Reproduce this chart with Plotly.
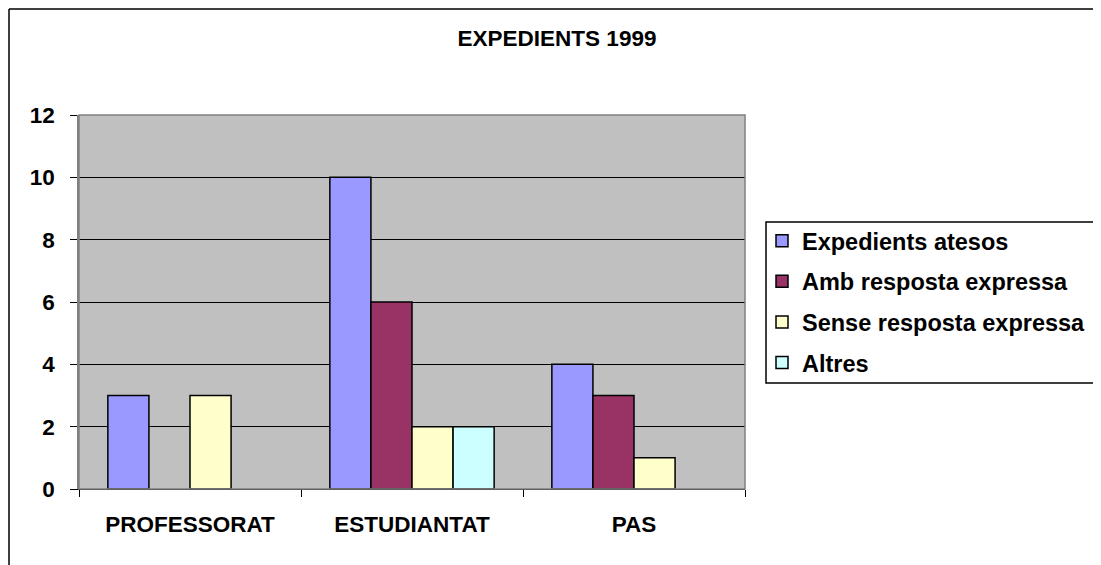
import plotly.graph_objects as go

categories = ["PROFESSORAT", "ESTUDIANTAT", "PAS"]
series_names = ["Expedients atesos", "Amb resposta expressa", "Sense resposta expressa", "Altres"]
expedients_atesos = [3, 10, 4]
amb_resposta = [0, 6, 3]
sense_resposta = [3, 2, 1]
altres = [0, 2, 0]
series_values = [expedients_atesos, amb_resposta, sense_resposta, altres]
colors = ["#9999FF", "#993366", "#FFFFCC", "#CCFFFF"]
y_ticks = [0, 2, 4, 6, 8, 10, 12]

# page has an 8px body margin: figure coordinates = screen coordinates - 8
OFF = 8
W, H = 1101 - OFF, 565 - OFF
L, R, T, B = 79 - OFF, 745 - OFF, 115 - OFF, 489 - OFF

FONT = "Liberation Sans, Arial, sans-serif"
FS = 22.5
FS_LEG = 23.5

fig = go.Figure()
for i, (name, vals, col) in enumerate(zip(series_names, series_values, colors)):
    fig.add_trace(go.Bar(
        x=categories, y=[v if v != 0 else None for v in vals], name=name,
        marker=dict(color=col, line=dict(color="black", width=1.5)),
        legendgroup=f"g{i}",
    ))

def px_x(px):
    return (px - OFF - L) / (R - L)

def px_y(py):
    return (B - (py - OFF)) / (B - T)

shapes = [
    # outer chart border (left and top edges visible)
    dict(type="line", xref="paper", yref="paper",
         x0=px_x(OFF + 1), x1=px_x(OFF + 1), y0=px_y(600), y1=px_y(OFF + 1),
         line=dict(color="black", width=1.5), layer="below"),
    dict(type="line", xref="paper", yref="paper",
         x0=px_x(OFF + 1), x1=px_x(1130), y0=px_y(OFF + 1), y1=px_y(OFF + 1),
         line=dict(color="black", width=1.5), layer="below"),
    # legend box
    dict(type="rect", xref="paper", yref="paper",
         x0=px_x(766), x1=px_x(1100), y0=px_y(383), y1=px_y(222),
         line=dict(color="black", width=1.5), fillcolor="white", layer="below"),
    # plot area border (gray)
    dict(type="rect", xref="paper", yref="paper",
         x0=0, x1=1, y0=0, y1=1,
         line=dict(color="#808080", width=1.5), fillcolor="rgba(0,0,0,0)", layer="above"),
]

fig.update_layout(
    width=W, height=H,
    margin=dict(l=L, r=W - R, t=T, b=H - B, pad=0, autoexpand=False),
    paper_bgcolor="white",
    plot_bgcolor="#C0C0C0",
    barmode="group",
    bargap=0.26,
    bargroupgap=0,
    font=dict(family=FONT, size=FS, color="black", weight="bold"),
    title=dict(text="EXPEDIENTS 1999", x=(557 - OFF) / W, xref="container", xanchor="center",
               y=1 - (38 - OFF) / H, yref="container", yanchor="middle",
               font=dict(family=FONT, size=FS, color="black", weight="bold")),
    showlegend=True,
    legend=dict(x=px_x(762), y=px_y(219), xanchor="left", yanchor="top",
                bgcolor="rgba(0,0,0,0)", borderwidth=0,
                font=dict(family=FONT, size=FS_LEG, color="black", weight="bold"),
                tracegroupgap=7, traceorder="grouped"),
    shapes=shapes,
)

fig.update_xaxes(
    type="category", categoryorder="array", categoryarray=categories,
    showgrid=False, showline=True, linecolor="black", linewidth=1,
    ticks="outside", tickson="boundaries", ticklen=7, tickcolor="black", tickwidth=1,
    ticklabelstandoff=15,
    tickfont=dict(family=FONT, size=FS, color="black", weight="bold"),
)
fig.update_yaxes(
    range=[0, 12], tickvals=y_ticks, ticktext=[str(t) for t in y_ticks],
    showgrid=True, gridcolor="black", gridwidth=1,
    showline=True, linecolor="#808080", linewidth=1.5,
    zeroline=False,
    ticks="outside", ticklen=7, tickcolor="black", tickwidth=1,
    ticklabelstandoff=11,
    tickfont=dict(family=FONT, size=FS, color="black", weight="bold"),
)

fig.write_html("out.html")
